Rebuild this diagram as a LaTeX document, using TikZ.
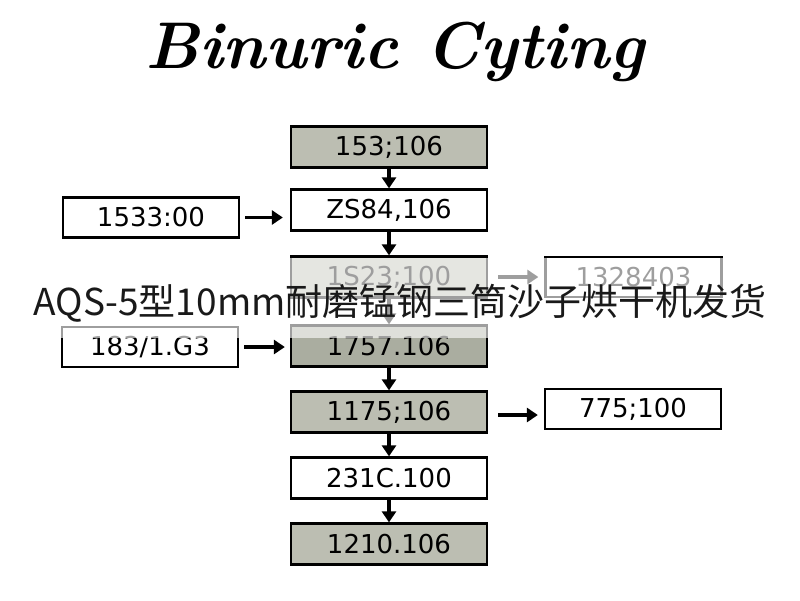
\documentclass[tikz,border=0pt]{standalone}
\usepackage{fontspec}
\setsansfont{DejaVu Sans}
\newfontfamily\cjkfont{Noto Sans CJK SC}
\usetikzlibrary{arrows.meta}
\definecolor{boxgray}{RGB}{188,190,178}
\definecolor{boxgraydark}{RGB}{170,173,160}
\definecolor{wmtext}{RGB}{25,25,25}
\tikzset{
  mainbox/.style={draw=black, line width=2.3pt, minimum width=196pt, minimum height=41pt, inner sep=0pt,
    font=\sffamily\fontsize{26}{26}\selectfont},
  sidebox/.style={draw=black, line width=2.3pt, minimum width=176pt, minimum height=40pt, inner sep=0pt,
    font=\sffamily\fontsize{26}{26}\selectfont},
  grayfill/.style={fill=boxgray},
  flowarrow/.style={line width=3.6pt, -{Triangle[length=11pt,width=14pt]}},
}
\begin{document}
\begin{tikzpicture}[x=1pt,y=-1pt]
\useasboundingbox (0,0) rectangle (800,600);
\fill[white] (0,0) rectangle (800,600);
% title
\node (title) at (395,52) {\fontsize{66}{66}\selectfont\bfseries\itshape Binuric Cyting};
% main column
\node[mainbox,grayfill] (b1) at (389,147) {153;106};
\node[mainbox] (b2) at (389,210) {ZS84,106};
\node[mainbox,grayfill] (b3) at (389,277) {1S23;100};
\node[mainbox,fill=boxgraydark] (b4) at (389,346) {1757.106};
\node[mainbox,grayfill] (b5) at (389,412) {1175;106};
\node[mainbox] (b6) at (389,478) {231C.100};
\node[mainbox,grayfill] (b7) at (389,544) {1210.106};
% side boxes
\node[sidebox] (l1) at (151,217.5) {1533:00};
\node[sidebox] (l2) at (150,347) {183/1.G3};
\node[sidebox] (r1) at (633.5,277) {1328403};
\node[sidebox] (r2) at (633,409) {775;100};
% vertical arrows
\foreach \a/\b in {b1/b2,b2/b3,b3/b4,b4/b5,b5/b6,b6/b7}
  \draw[flowarrow] (\a.south) -- (\b.north);
% horizontal arrows
\draw[flowarrow, shorten <=5pt, shorten >=7pt] (l1.east) -- (l1.east -| b2.west);
\draw[flowarrow, shorten <=5pt, shorten >=5pt] (l2.east) -- (l2.east -| b4.west);
\draw[flowarrow, shorten <=10pt, shorten >=6pt] (b3.east) -- (b3.east -| r1.west);
\draw[flowarrow, shorten <=10pt, shorten >=6pt] ([yshift=-3pt]b5.east) -- ([yshift=-3pt]b5.east -| r2.west);
% watermark band
\fill[white, opacity=0.62] (0,258) rectangle (800,338);
\node[text=wmtext, inner sep=0pt] (wm) at (400,303) {\cjkfont\fontsize{37}{37}\selectfont AQS-5型10mm耐磨锰钢三筒沙子烘干机发货};
\end{tikzpicture}
\end{document}
